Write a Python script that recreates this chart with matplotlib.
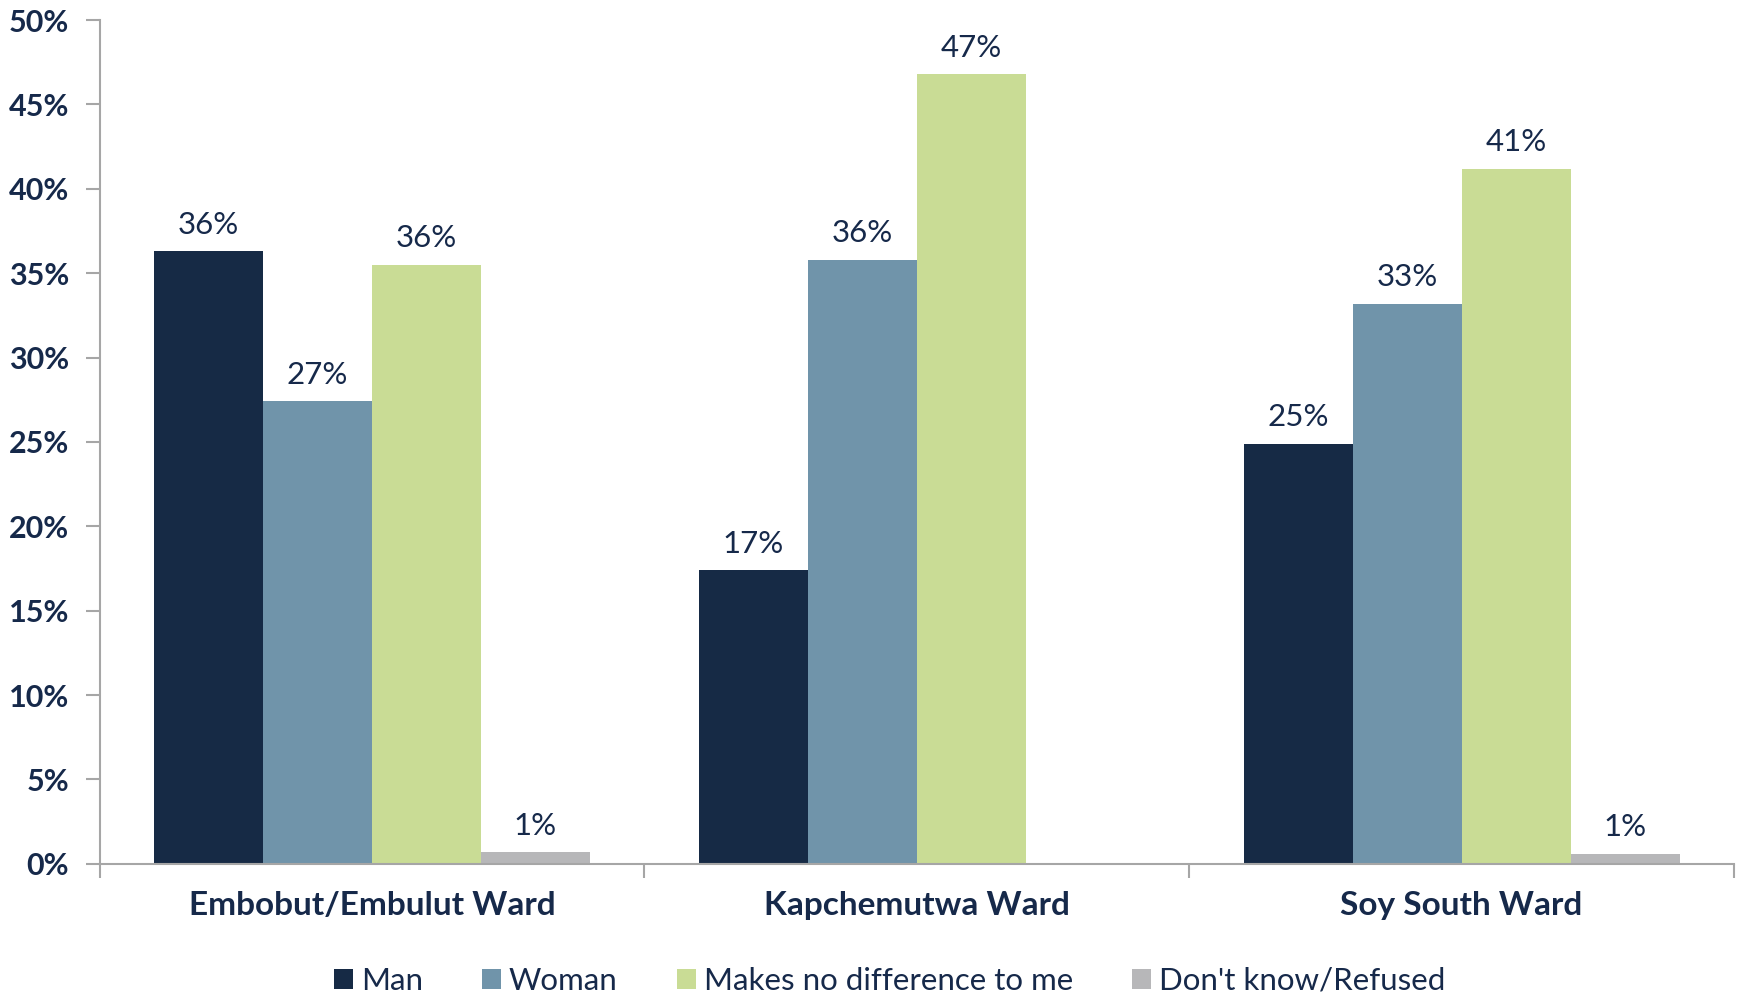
import matplotlib.pyplot as plt
import numpy as np

plt.rcParams['font.family'] = ['Lato', 'DejaVu Sans']

wards = ['Embobut/Embulut Ward', 'Kapchemutwa Ward', 'Soy South Ward']
series = ['Man', 'Woman', 'Makes no difference to me', "Don't know/Refused"]
man = [36.3, 17.4, 24.9]
woman = [27.4, 35.8, 33.2]
no_diff = [35.5, 46.8, 41.2]
dont_know = [0.7, 0.0, 0.6]
colors = ['#162A45', '#7094AA', '#C9DC95', '#B7B7B9']

text_col = '#16294A'
spine_col = '#A6A6A6'

fig = plt.figure(figsize=(17.48, 10.01), dpi=100)
ax = fig.add_axes([0.057, 0.137, 0.935, 0.843])

x = np.arange(len(wards))
w = 0.2
for i, (vals, name) in enumerate(zip([man, woman, no_diff, dont_know], series)):
    pos = x + (i - 1.5) * w
    ax.bar(pos, vals, w, color=colors[i], label=name)
    for xp, v in zip(pos, vals):
        if v > 0:
            ax.annotate(f'{v:.0f}%', (xp, v), xytext=(0, 9), textcoords='offset points',
                        ha='center', va='bottom', fontsize=22.5, color=text_col)

ax.set_xlim(-0.5, 2.5)
ax.set_ylim(0, 50)
ax.set_yticks(np.arange(0, 51, 5))
ax.set_yticklabels([f'{t}%' for t in range(0, 51, 5)], fontsize=22, fontweight='bold', color=text_col)
ax.set_xticks([-0.5, 0.5, 1.5, 2.5])
ax.set_xticklabels([])
ax.tick_params(axis='both', length=10, color=spine_col, width=1.5)
ax.tick_params(axis='y', pad=12)
for xp, name in zip(x, wards):
    ax.text(xp, -1.6, name, ha='center', va='top', fontsize=24, fontweight='bold', color=text_col,
            transform=ax.transData)

for s in ['top', 'right']:
    ax.spines[s].set_visible(False)
for s in ['left', 'bottom']:
    ax.spines[s].set_color(spine_col)
    ax.spines[s].set_linewidth(1.5)

leg = fig.legend(loc='center', bbox_to_anchor=(0.509, 0.02), ncol=4, frameon=False,
                 fontsize=22.5, handlelength=0.6, handleheight=0.6, handletextpad=0.25,
                 columnspacing=1.9)
for t in leg.get_texts():
    t.set_color(text_col)

fig.savefig('out.png', dpi=100)
